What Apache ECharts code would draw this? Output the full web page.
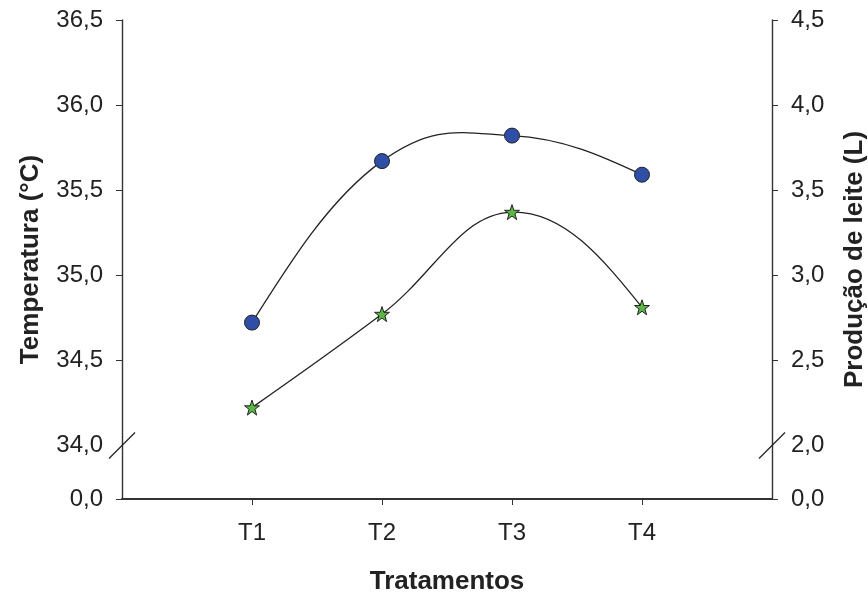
<!DOCTYPE html>
<html>
<head>
<meta charset="utf-8">
<script src="https://cdn.jsdelivr.net/npm/echarts@6/dist/echarts.min.js"></script>
<style>
  html, body { margin: 0; padding: 0; background: #fff; }
  #chart { width: 868px; height: 594px; }
</style>
</head>
<body>
<div id="chart"></div>
<script>
// Treatments on the horizontal axis (placed at positions 1..4 of a 0..5 value axis)
const categories = ['T1', 'T2', 'T3', 'T4'];
const categoryPos = [1, 2, 3, 4];

// Body temperature (°C), left axis
const temperatura = [34.72, 35.67, 35.82, 35.59];
// Milk yield (L), right axis
const producaoLeite = [2.22, 2.77, 3.37, 2.81];

// Tick labels of the broken axes (upper part) and of the lower stub
const tempTicks = [34.0, 34.5, 35.0, 35.5, 36.0, 36.5];
const leiteTicks = [2.0, 2.5, 3.0, 3.5, 4.0, 4.5];
const baseTick = [0];

const fmt = v => v.toFixed(1).replace('.', ',');
const FONT = 'Liberation Sans';
const INK = '#222';

const starPath = 'path://M50,2 L61.8,36.2 L97.6,36.2 L68.6,57.4 L79.4,92 L50,70.6 L20.6,92 L31.4,57.4 L2.4,36.2 L38.2,36.2 Z';

const chart = echarts.init(document.getElementById('chart'), null, { renderer: 'canvas' });

const tickStyle = { fontFamily: FONT, fontSize: 24, color: INK };
const titleStyle = { fontFamily: FONT, fontSize: 26, fontWeight: 'bold', color: INK };

// Smooth curve through the points of one series: cubic Bézier segments whose
// control points follow the neighbouring points; the end segments use a
// natural end (zero curvature at the first and last point).
const TENSION = 0.2;
function splineItem(values) {
  const n = values.length;
  return function (params, api) {
    const i = params.dataIndex;
    if (i >= n - 1) return null;
    const pt = k => api.coord([categoryPos[k], values[k]]);
    const p1 = pt(i), p2 = pt(i + 1);
    let c1 = null, c2 = null;
    if (i > 0) {
      const p0 = pt(i - 1);
      c1 = [p1[0] + (p2[0] - p0[0]) * TENSION, p1[1] + (p2[1] - p0[1]) * TENSION];
    }
    if (i + 2 < n) {
      const p3 = pt(i + 2);
      c2 = [p2[0] - (p3[0] - p1[0]) * TENSION, p2[1] - (p3[1] - p1[1]) * TENSION];
    }
    if (!c1) c1 = [(p1[0] + c2[0]) / 2, (p1[1] + c2[1]) / 2];
    if (!c2) c2 = [(p2[0] + c1[0]) / 2, (p2[1] + c1[1]) / 2];
    return {
      type: 'bezierCurve',
      shape: {
        x1: p1[0], y1: p1[1], x2: p2[0], y2: p2[1],
        cpx1: c1[0], cpy1: c1[1], cpx2: c2[0], cpy2: c2[1]
      },
      style: { stroke: INK, lineWidth: 1.3, fill: null }
    };
  };
}

const gridBase = { left: 122, right: 96, top: 20, containLabel: false, outerBoundsMode: 'none' };

const option = {
  backgroundColor: '#fff',
  animation: false,
  grid: [
    // full frame: axis lines, category labels, axis titles, the 0,0 stub
    { ...gridBase, bottom: 95 },
    // upper part of the broken axes where the data live
    { ...gridBase, bottom: 149 }
  ],
  xAxis: [
    {
      gridIndex: 0, type: 'value', min: 0, max: 5, interval: 1,
      name: 'Tratamentos', nameLocation: 'middle', nameGap: 70,
      nameTextStyle: titleStyle,
      axisLine: { show: true, lineStyle: { color: '#333', width: 2.2 } },
      axisTick: { show: true, length: 6, customValues: categoryPos, lineStyle: { color: '#333', width: 1 } },
      axisLabel: {
        ...tickStyle, margin: 22, customValues: categoryPos,
        formatter: v => categories[categoryPos.indexOf(v)] || ''
      },
      splitLine: { show: false }
    },
    {
      gridIndex: 1, type: 'value', min: 0, max: 5, interval: 1, show: false
    }
  ],
  yAxis: [
    {
      gridIndex: 0, type: 'value', position: 'left', min: 0, max: 1,
      name: 'Temperatura (°C)', nameLocation: 'middle', nameGap: 78,
      nameTextStyle: titleStyle,
      axisLine: { show: true, lineStyle: { color: '#333', width: 1.4 } },
      axisTick: { show: true, length: 6, customValues: baseTick, lineStyle: { color: '#333' } },
      axisLabel: { ...tickStyle, margin: 19, customValues: baseTick, formatter: fmt },
      splitLine: { show: false }
    },
    {
      gridIndex: 0, type: 'value', position: 'right', min: 0, max: 1,
      name: 'Produção de leite (L)', nameLocation: 'middle', nameGap: 70,
      nameTextStyle: titleStyle,
      axisLine: { show: true, lineStyle: { color: '#333', width: 1.4 } },
      axisTick: { show: true, length: 6, customValues: baseTick, lineStyle: { color: '#333' } },
      axisLabel: { ...tickStyle, margin: 19, customValues: baseTick, formatter: fmt },
      splitLine: { show: false }
    },
    {
      gridIndex: 1, type: 'value', position: 'left',
      min: tempTicks[0], max: tempTicks[tempTicks.length - 1], interval: 0.5,
      axisLine: { show: false },
      axisTick: { show: true, length: 6, customValues: tempTicks.slice(1), lineStyle: { color: '#333' } },
      axisLabel: { ...tickStyle, margin: 19, customValues: tempTicks, formatter: fmt },
      splitLine: { show: false }
    },
    {
      gridIndex: 1, type: 'value', position: 'right',
      min: leiteTicks[0], max: leiteTicks[leiteTicks.length - 1], interval: 0.5,
      axisLine: { show: false },
      axisTick: { show: true, length: 6, customValues: leiteTicks.slice(1), lineStyle: { color: '#333' } },
      axisLabel: { ...tickStyle, margin: 19, customValues: leiteTicks, formatter: fmt },
      splitLine: { show: false }
    }
  ],
  series: [
    {
      name: 'Temperatura (°C)', type: 'custom', xAxisIndex: 1, yAxisIndex: 2,
      data: categoryPos.map((x, i) => [x, temperatura[i]]),
      renderItem: splineItem(temperatura),
      z: 2, silent: true
    },
    {
      name: 'Produção de leite (L)', type: 'custom', xAxisIndex: 1, yAxisIndex: 3,
      data: categoryPos.map((x, i) => [x, producaoLeite[i]]),
      renderItem: splineItem(producaoLeite),
      z: 2, silent: true
    },
    {
      name: 'Temperatura (°C)', type: 'scatter', xAxisIndex: 1, yAxisIndex: 2,
      data: categoryPos.map((x, i) => [x, temperatura[i]]),
      symbol: 'circle', symbolSize: 15,
      itemStyle: { color: '#2f4fa6', borderColor: INK, borderWidth: 1, opacity: 1 },
      z: 3
    },
    {
      name: 'Produção de leite (L)', type: 'scatter', xAxisIndex: 1, yAxisIndex: 3,
      data: categoryPos.map((x, i) => [x, producaoLeite[i]]),
      symbol: starPath, symbolSize: 15,
      itemStyle: { color: '#5cb846', borderColor: INK, borderWidth: 1, opacity: 1 },
      z: 3
    }
  ]
};

chart.setOption(option);

// Break marks: short slashes across both vertical axes at the start of the upper scale
function drawBreaks() {
  const yLeft = chart.convertToPixel({ yAxisIndex: 2 }, tempTicks[0]);
  const yRight = chart.convertToPixel({ yAxisIndex: 3 }, leiteTicks[0]);
  const xLeft = chart.convertToPixel({ xAxisIndex: 1 }, 0);
  const xRight = chart.convertToPixel({ xAxisIndex: 1 }, 5);
  const slash = (cx, cy) => ({
    type: 'line',
    shape: { x1: cx - 13, y1: cy + 13, x2: cx + 13, y2: cy - 13 },
    style: { stroke: INK, lineWidth: 1.3 },
    z: 10
  });
  chart.setOption({ graphic: [slash(xLeft, yLeft + 0.5), slash(xRight, yRight + 0.5)] });
}
drawBreaks();
</script>
</body>
</html>
